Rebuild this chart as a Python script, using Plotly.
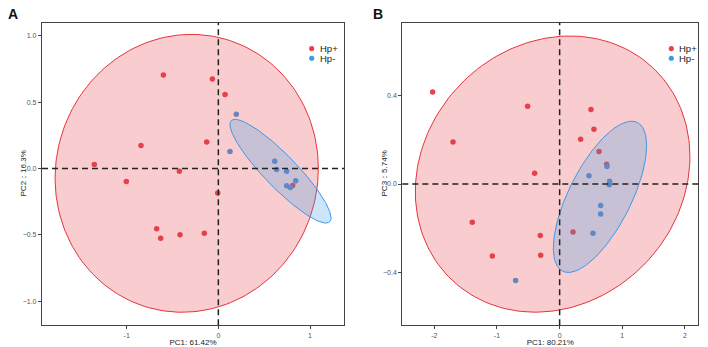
import numpy as np
import plotly.graph_objects as go

# ---------------- data ----------------
groups = ["Hp+", "Hp-"]

# Panel A: PC1 vs PC2
a_pos_pc1 = [-0.60, -0.065, 0.073, -0.844, -0.127, -1.353, -0.425, -1.004, -0.007, -0.673, -0.629, -0.418, -0.153, 0.811]
a_pos_pc2 = [0.704, 0.674, 0.557, 0.174, 0.199, 0.030, -0.020, -0.097, -0.184, -0.453, -0.525, -0.498, -0.488, -0.127]
a_neg_pc1 = [0.196, 0.127, 0.615, 0.636, 0.745, 0.844, 0.745, 0.785]
a_neg_pc2 = [0.408, 0.129, 0.055, -0.007, -0.020, -0.092, -0.129, -0.142]

# Panel B: PC1 vs PC3
b_pos_pc1 = [-2.027, -1.702, -0.511, -0.399, -1.394, -0.309, -1.074, -0.303, 0.500, 0.548, 0.335, 0.628, 0.750, 0.213]
b_pos_pc3 = [0.417, 0.190, 0.353, 0.049, -0.173, -0.233, -0.326, -0.323, 0.338, 0.248, 0.203, 0.147, 0.090, -0.218]
b_neg_pc1 = [0.468, 0.755, 0.798, 0.793, 0.654, 0.654, 0.532, -0.702]
b_neg_pc3 = [0.037, 0.079, 0.013, -0.003, -0.097, -0.136, -0.223, -0.438]

# confidence ellipses: [cx, cy, A, B, C]  x = cx + A cos t ; y = cy + B cos t + C sin t
a_ell_pos = [-0.345, -0.036, 1.436, 0.037, 1.045]
a_ell_neg = [0.678, -0.020, 0.551, -0.351, 0.171]
b_ell_pos = [-0.112, 0.045, 2.191, 0.0793, 0.621]
b_ell_neg = [0.644, -0.058, 0.745, 0.2325, 0.252]

a_xticks = [-1, 0, 1]
a_yticks = [-1.0, -0.5, 0.0, 0.5, 1.0]
b_xticks = [-2, -1, 0, 1, 2]
b_yticks = [-0.4, 0.0, 0.4]

a_xtitle, a_ytitle = "PC1: 61.42%", "PC2：16.3%"
b_xtitle, b_ytitle = "PC1: 80.21%", "PC3：5.74%"

# ---------------- styling ----------------
RED = "#E6434C"
BLUE = "#3D9BE6"
RED_FILL = "rgba(232,60,70,0.26)"
BLUE_FILL = "rgba(60,156,230,0.26)"
RED_LINE = "#E5333B"
BLUE_LINE = "#3A98E8"
FONT = "Liberation Sans, Arial, sans-serif"
W, H = 708, 347


def ellipse(p, n=200):
    t = np.linspace(0, 2 * np.pi, n)
    cx, cy, A, B, C = p
    return cx + A * np.cos(t), cy + B * np.cos(t) + C * np.sin(t)


fig = go.Figure()

panels = [
    ("x", "y", a_pos_pc1, a_pos_pc2, a_neg_pc1, a_neg_pc2, a_ell_pos, a_ell_neg),
    ("x2", "y2", b_pos_pc1, b_pos_pc3, b_neg_pc1, b_neg_pc3, b_ell_pos, b_ell_neg),
]

for xa, ya, px, py, nx, ny, ep, en in panels:
    fig.add_trace(go.Scatter(x=px, y=py, mode="markers", xaxis=xa, yaxis=ya, name=groups[0],
                             marker=dict(color=RED, size=5.5), showlegend=False))
    fig.add_trace(go.Scatter(x=nx, y=ny, mode="markers", xaxis=xa, yaxis=ya, name=groups[1],
                             marker=dict(color=BLUE, size=5.5), showlegend=False))
    ex, ey = ellipse(ep)
    fig.add_trace(go.Scatter(x=ex, y=ey, mode="lines", fill="toself", fillcolor=RED_FILL,
                             line=dict(color=RED_LINE, width=1), xaxis=xa, yaxis=ya,
                             hoverinfo="skip", showlegend=False))
    ex, ey = ellipse(en)
    fig.add_trace(go.Scatter(x=ex, y=ey, mode="lines", fill="toself", fillcolor=BLUE_FILL,
                             line=dict(color=BLUE_LINE, width=1), xaxis=xa, yaxis=ya,
                             hoverinfo="skip", showlegend=False))

ax_common = dict(showline=True, mirror=True, linecolor="#444", linewidth=1.2,
                 ticks="outside", ticklen=3, tickcolor="#444", tickwidth=1,
                 showgrid=False, zeroline=False,
                 tickfont=dict(family=FONT, size=7, color="#555"))
title_font = dict(family=FONT, size=8, color="#222")

ydom = [19 / H, 324 / H]
fig.update_layout(
    xaxis=dict(domain=[42 / W, 344 / W], range=[-1.924, 1.371], tickvals=a_xticks,
               ticktext=[str(v) for v in a_xticks],
               title=dict(text=a_xtitle, font=title_font, standoff=3), **ax_common),
    yaxis=dict(domain=ydom, range=[-1.179, 1.097], tickvals=a_yticks, tickformat=".1f",
               **ax_common),
    xaxis2=dict(domain=[402.3 / W, 698.3 / W], range=[-2.511, 2.213], tickvals=b_xticks,
                ticktext=[str(v) for v in b_xticks], anchor="y2",
                title=dict(text=b_xtitle, font=title_font, standoff=3), **ax_common),
    yaxis2=dict(domain=ydom, range=[-0.640, 0.731], tickvals=b_yticks, tickformat=".1f",
                anchor="x2", **ax_common),
    width=W, height=H, margin=dict(l=0, r=0, t=0, b=0),
    paper_bgcolor="white", plot_bgcolor="white", showlegend=False,
)

# dashed zero lines
shapes = []
for xr, yr in [("x", "y"), ("x2", "y2")]:
    shapes.append(dict(type="line", xref=xr, yref=yr + " domain", x0=0, x1=0, y0=0, y1=1,
                       line=dict(color="#222", width=1.5, dash="6px,4px"), layer="above"))
    shapes.append(dict(type="line", xref=xr + " domain", yref=yr, x0=0, x1=1, y0=0, y1=0,
                       line=dict(color="#222", width=1.5, dash="6px,4px"), layer="above"))

annotations = []
# y-axis titles (rotated)
for txt, yx in [(a_ytitle, 23.5), (b_ytitle, 384.5)]:
    annotations.append(dict(text=txt, xref="paper", yref="paper", x=yx / W, y=1 - 175.5 / H,
                            xanchor="center", yanchor="middle", textangle=-90, showarrow=False,
                            font=title_font))

# legends (marker dots + labels)
for mx, tx in [(311.7, 317.5), (671.3, 677.0)]:
    for i, (g, col, my) in enumerate([(groups[0], RED, 49.0), (groups[1], BLUE, 58.8)]):
        r = 2.6
        shapes.append(dict(type="circle", xref="paper", yref="paper",
                           x0=(mx - r) / W, x1=(mx + r) / W, y0=1 - (my + r) / H, y1=1 - (my - r) / H,
                           fillcolor=col, line=dict(width=0)))
        annotations.append(dict(text=g, xref="paper", yref="paper", x=tx / W, y=1 - my / H,
                                xanchor="left", yanchor="middle", showarrow=False,
                                font=dict(family=FONT, size=9.5, color="#222")))

# panel letters
for lab, lx in [("A", 13.0), ("B", 377.5)]:
    annotations.append(dict(text="<b>" + lab + "</b>", xref="paper", yref="paper",
                            x=lx / W, y=1 - 14.5 / H, xanchor="center", yanchor="middle",
                            showarrow=False, font=dict(family=FONT, size=14, color="#111")))

fig.update_layout(shapes=shapes, annotations=annotations)

fig.write_html("out.html", config={"displayModeBar": False},
               post_script="document.body.style.margin='0';document.body.style.overflow='hidden';")
